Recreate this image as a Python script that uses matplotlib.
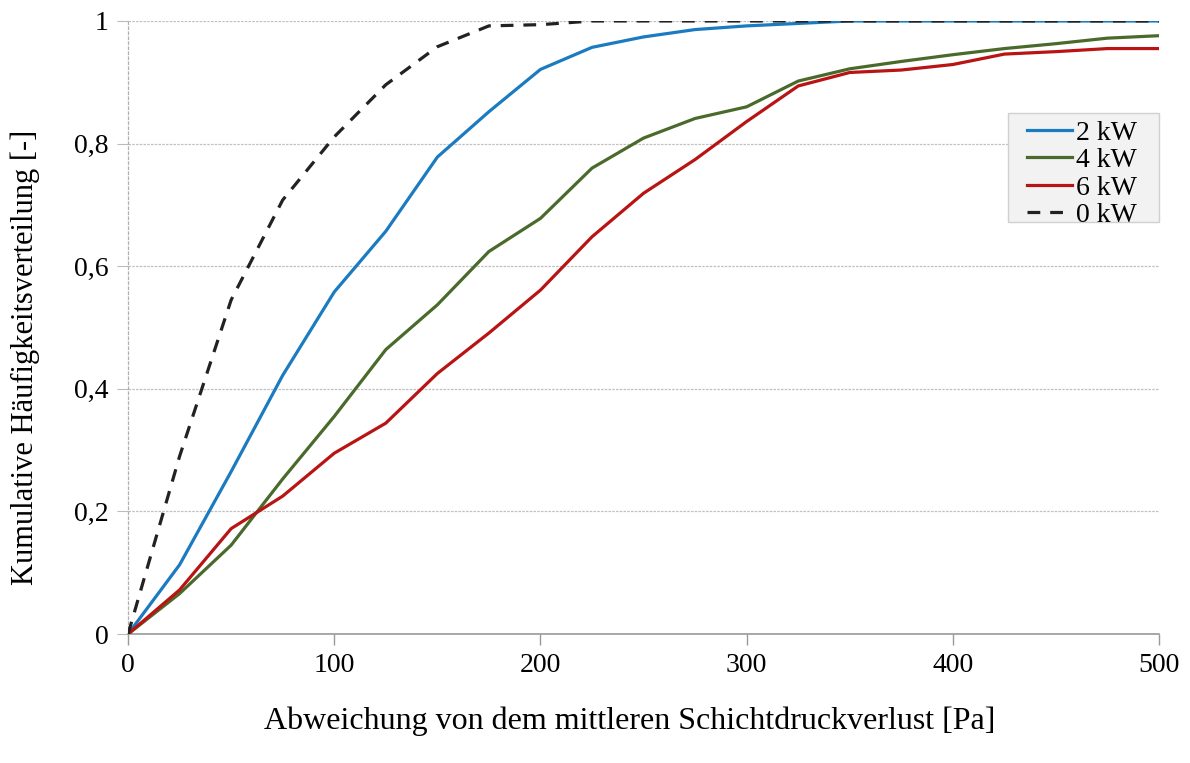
import matplotlib
matplotlib.use("Agg")
import matplotlib.pyplot as plt
from matplotlib.patches import Rectangle

x_pa = [0, 25, 50, 75, 100, 125, 150, 175, 200, 225, 250, 275, 300,
        325, 350, 375, 400, 425, 450, 475, 500]
kw2 = [0, 0.113, 0.265, 0.422, 0.558, 0.657, 0.778, 0.852, 0.921, 0.957, 0.974,
       0.986, 0.992, 0.996, 1.0, 1.0, 1.0, 1.0, 1.0, 1.0, 1.0]
kw4 = [0, 0.066, 0.145, 0.253, 0.355, 0.464, 0.537, 0.624, 0.678, 0.760, 0.809,
       0.841, 0.860, 0.902, 0.922, 0.934, 0.945, 0.955, 0.963, 0.972, 0.976]
kw6 = [0, 0.072, 0.172, 0.225, 0.295, 0.344, 0.425, 0.491, 0.561, 0.648, 0.719,
       0.774, 0.836, 0.894, 0.916, 0.920, 0.929, 0.946, 0.950, 0.955, 0.955]
kw0 = [0, 0.29, 0.545, 0.708, 0.811, 0.896, 0.958, 0.992, 0.994, 1.0, 1.0,
       1.0, 1.0, 1.0, 1.0, 1.0, 1.0, 1.0, 1.0, 1.0, 1.0]
labels = ["2 kW", "4 kW", "6 kW", "0 kW"]
xticks = [0, 100, 200, 300, 400, 500]
yticks = [0, 0.2, 0.4, 0.6, 0.8, 1.0]
ytick_labels = ["0", "0,2", "0,4", "0,6", "0,8", "1"]

plt.rcParams['font.family'] = ['Liberation Serif', 'DejaVu Serif']

fig = plt.figure(figsize=(11.90, 7.63), dpi=100)
ax = fig.add_axes([0.1076, 0.169, 0.8664, 0.8035])

ax.plot(x_pa, kw2, color="#1b7bc0", lw=2.3, label=labels[0], zorder=3)
ax.plot(x_pa, kw4, color="#4a6a2b", lw=2.3, label=labels[1], zorder=3)
ax.plot(x_pa, kw6, color="#b81414", lw=2.3, label=labels[2], zorder=3)
ax.plot(x_pa, kw0, color="#222222", lw=2.3, ls=(0, (4.0, 3.1)), label=labels[3], zorder=4)

ax.set_xlim(0, 500)
ax.set_ylim(0, 1)
ax.set_xticks(xticks)
ax.set_yticks(yticks)
ax.set_yticklabels(ytick_labels)
ax.tick_params(axis='both', labelsize=20, colors="#000000")
ax.tick_params(axis='x', direction='out', length=8, width=1, color="#999999", pad=6)
ax.tick_params(axis='y', direction='out', length=8, width=0.8, color="#bbbbbb", pad=6)

ax.grid(axis='y', color="#c0c0c0", lw=0.9, ls=(0, (2, 1)))
for side in ['top', 'right']:
    ax.spines[side].set_visible(False)
ax.spines['left'].set_color("#b0b0b0")
ax.spines['left'].set_linestyle((0, (2, 2)))
ax.spines['left'].set_linewidth(0.9)
ax.spines['bottom'].set_color("#999999")
ax.spines['bottom'].set_linewidth(1.2)

ax.set_xlabel("Abweichung von dem mittleren Schichtdruckverlust [Pa]", fontsize=23)
ax.set_ylabel("Kumulative Häufigkeitsverteilung [-]", fontsize=22)
ax.xaxis.set_label_coords(0.487, -0.118)
ax.yaxis.set_label_coords(-0.0853, 0.452)

# legend background box
ax.add_patch(Rectangle((0.8535, 0.672), 0.1465, 0.178, transform=ax.transAxes,
                       facecolor="#f2f2f2", edgecolor="#d0d0d0", lw=1.0,
                       zorder=5, clip_on=False))
leg = ax.legend(loc='upper left', bbox_to_anchor=(0.872, 0.838), fontsize=20,
                frameon=False, handlelength=1.6, handletextpad=0.15,
                labelspacing=0.07, borderpad=0.0, borderaxespad=0.0)
leg.set_zorder(6)

fig.savefig("out.png", dpi=100)
